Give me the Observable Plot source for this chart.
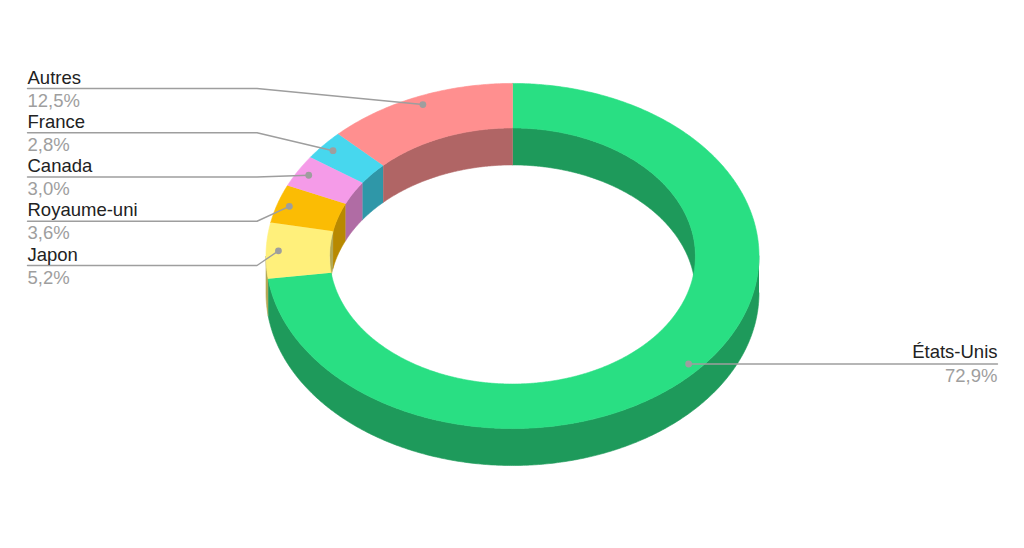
<!DOCTYPE html>
<html>
<head>
<meta charset="utf-8">
<script src="https://cdn.jsdelivr.net/npm/d3@7"></script>
<script src="https://cdn.jsdelivr.net/npm/@observablehq/plot@0.6"></script>
<style>
  html, body { margin: 0; padding: 0; background: #ffffff; }
  #chart { width: 1024px; height: 548px; }
</style>
</head>
<body>
<div id="chart"></div>
<script>
// ---- Data ----
const categories = ["États-Unis", "Japon", "Royaume-uni", "Canada", "France", "Autres"];
const values = [72.9, 5.2, 3.6, 3.0, 2.8, 12.5];
const topColors = ["#29df83", "#fff07b", "#fbbc04", "#f59be8", "#47d7ee", "#ff8f8f"];
const sideColors = ["#1e9a5b", "#b3a855", "#b88900", "#b06ca4", "#2f97a8", "#b06565"];

// ---- Layout ----
const W = 1024, H = 548;
const CX = 512, CY = 255.5, R = 246.5;   // outer x-radius in px = 1 unit
const TILT = 0.70, INNER = 0.742, DEPTH = 0.15;
const deg = Math.PI / 180;
const TAU = 2 * Math.PI;
const FS = 18.5;

function pt(a, r, z) { return {x: r * Math.sin(a), y: -r * TILT * Math.cos(a) + z * DEPTH}; }
function arc(a0, a1, r, z) {
  const n = Math.max(2, Math.ceil(Math.abs(a1 - a0) / (0.5 * deg)));
  return d3.range(n + 1).map(k => pt(a0 + (a1 - a0) * k / n, r, z));
}
const px2u = (px) => (px - CX) / R;
const py2u = (py) => (py - CY) / R;

const total = d3.sum(values);
let acc = 0;
const slices = values.map((v, i) => {
  const a0 = acc / total * TAU; acc += v; const a1 = acc / total * TAU;
  return {name: categories[i], value: v, a0, a1, mid: (a0 + a1) / 2, top: topColors[i], side: sideColors[i]};
});

const walls = [], tops = [];
slices.forEach((s, i) => {
  // outer wall (front half)
  let lo = Math.max(s.a0, Math.PI / 2), hi = Math.min(s.a1, 3 * Math.PI / 2);
  if (hi > lo) {
    [...arc(lo, hi, 1, 0), ...arc(hi, lo, 1, 1)].forEach(p => walls.push({...p, id: "o" + i, color: s.side}));
  }
  // inner wall (back half)
  [[0, Math.PI / 2], [3 * Math.PI / 2, TAU]].forEach(([b0, b1], j) => {
    const l = Math.max(s.a0, b0), h = Math.min(s.a1, b1);
    if (h > l) {
      [...arc(l, h, INNER, 0), ...arc(h, l, INNER, 1)].forEach(p => walls.push({...p, id: "i" + i + "_" + j, color: s.side}));
    }
  });
  [...arc(s.a0, s.a1, 1, 0), ...arc(s.a1, s.a0, INNER, 0)].forEach(p => tops.push({...p, id: "t" + i, color: s.top}));
});

const fmt = v => v.toFixed(1).replace(".", ",") + "%";

// labels
const dots = slices.map(s => ({...pt(s.mid, 0.95, 0), name: s.name, pct: fmt(s.value)}));
const leftOrder = [5, 4, 3, 2, 1];
const leaders = [];
const leftText = [];
leftOrder.forEach((si, row) => {
  const ly = 88 + row * 44.25;
  const d = dots[si];
  [{x: px2u(27), y: py2u(ly)}, {x: px2u(256.5), y: py2u(ly)}, {x: d.x, y: d.y}]
    .forEach(p => leaders.push({...p, id: "l" + si}));
  leftText.push({x: px2u(27), yName: py2u(ly - 5), yPct: py2u(ly + 18), name: d.name, pct: d.pct});
});
const us = dots[0];
[{x: us.x, y: us.y}, {x: px2u(997), y: us.y}].forEach(p => leaders.push({...p, id: "l0"}));
const rightText = [{x: px2u(997), yName: us.y - 6.5 / R, yPct: us.y + 18 / R, name: us.name, pct: us.pct}];

const font = "'Liberation Sans', Arial, Helvetica, sans-serif";
const plot = Plot.plot({
  width: W, height: H,
  margin: 0,
  style: {fontFamily: font, background: "#ffffff"},
  x: {domain: [-CX / R, (W - CX) / R], range: [0, W], axis: null},
  y: {domain: [-CY / R, (H - CY) / R], range: [0, H], axis: null},
  color: {type: "identity"},
  marks: [
    Plot.line(walls, {x: "x", y: "y", z: "id", fill: "color", stroke: "color", strokeWidth: 0.6, curve: "linear"}),
    Plot.line(tops, {x: "x", y: "y", z: "id", fill: "color", stroke: "color", strokeWidth: 0.6, curve: "linear"}),
    Plot.line(leaders, {x: "x", y: "y", z: "id", stroke: "#9e9e9e", strokeWidth: 1.4}),
    Plot.dot(dots, {x: "x", y: "y", r: 3.4, fill: "#9e9e9e", stroke: null}),
    Plot.text(leftText, {x: "x", y: "yName", text: "name", textAnchor: "start", lineAnchor: "bottom", fontSize: FS, fill: "#222222", fontFamily: font}),
    Plot.text(leftText, {x: "x", y: "yPct", text: "pct", textAnchor: "start", lineAnchor: "bottom", fontSize: FS, fill: "#9e9e9e", fontFamily: font}),
    Plot.text(rightText, {x: "x", y: "yName", text: "name", textAnchor: "end", lineAnchor: "bottom", fontSize: FS, fill: "#222222", fontFamily: font}),
    Plot.text(rightText, {x: "x", y: "yPct", text: "pct", textAnchor: "end", lineAnchor: "bottom", fontSize: FS, fill: "#9e9e9e", fontFamily: font})
  ]
});
document.getElementById("chart").appendChild(plot);
</script>
</body>
</html>
